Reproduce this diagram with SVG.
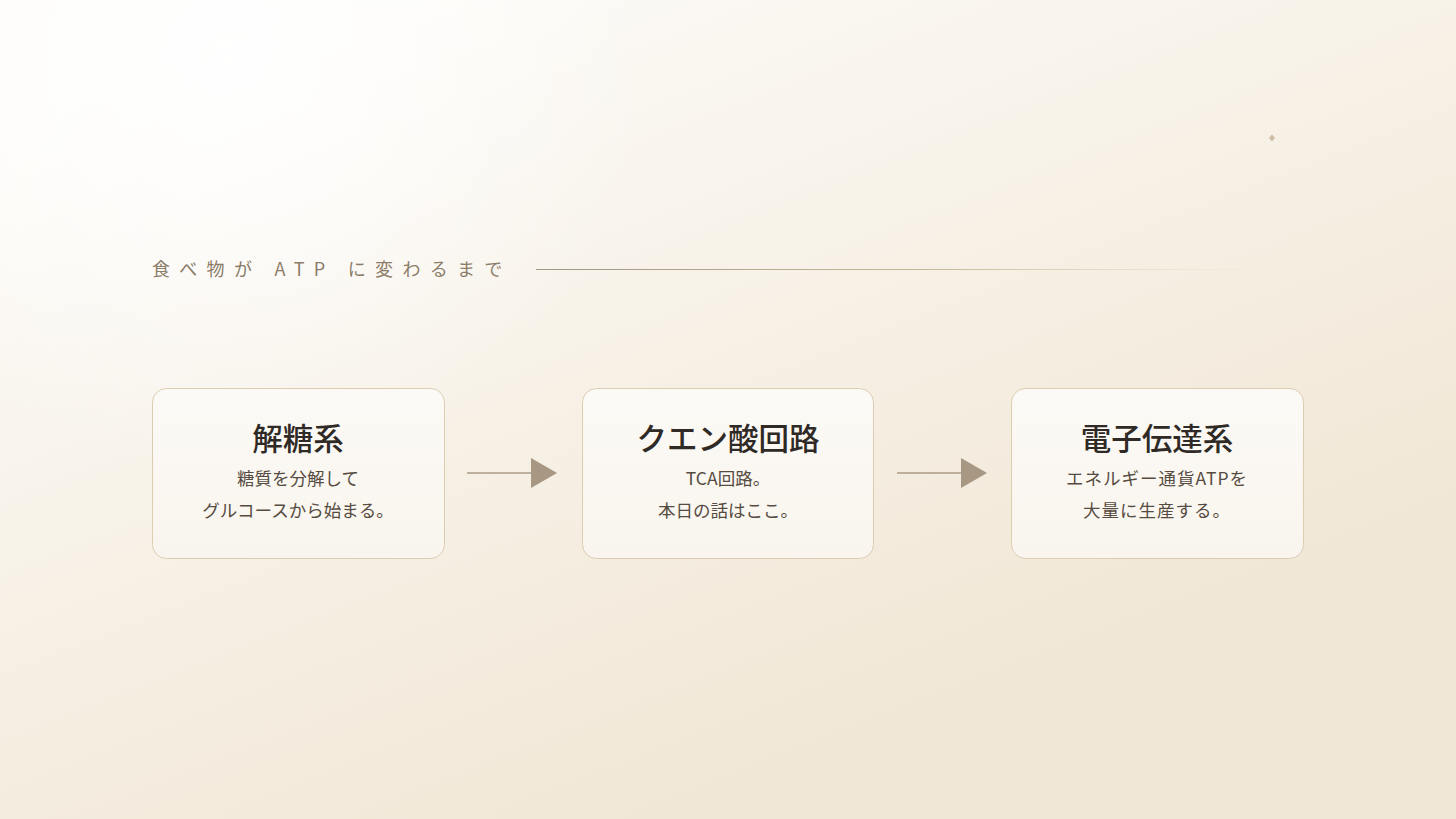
<svg xmlns="http://www.w3.org/2000/svg" width="1456" height="819" viewBox="0 0 1456 819">
  <defs>
    <linearGradient id="bg" gradientUnits="userSpaceOnUse" x1="300" y1="0" x2="620" y2="819">
      <stop offset="0" stop-color="#fdfcf9"/>
      <stop offset="0.5" stop-color="#f7f1e7"/>
      <stop offset="1" stop-color="#f1e7d6"/>
    </linearGradient>
    <radialGradient id="glow" gradientUnits="userSpaceOnUse" cx="230" cy="60" r="420">
      <stop offset="0" stop-color="#ffffff" stop-opacity="0.9"/>
      <stop offset="1" stop-color="#ffffff" stop-opacity="0"/>
    </radialGradient>
    <linearGradient id="rule" gradientUnits="userSpaceOnUse" x1="536" y1="0" x2="1290" y2="0">
      <stop offset="0" stop-color="#a39684"/>
      <stop offset="0.55" stop-color="#cbbb9c"/>
      <stop offset="1" stop-color="#e8dcc6" stop-opacity="0"/>
    </linearGradient>
    <linearGradient id="card" x1="0" y1="0" x2="0" y2="1">
      <stop offset="0" stop-color="#fcfaf6"/>
      <stop offset="1" stop-color="#f9f5ee"/>
    </linearGradient>
    <marker id="arrow" viewBox="0 0 26 30" refX="0" refY="15" markerWidth="26" markerHeight="30" markerUnits="userSpaceOnUse" orient="auto">
      <path d="M0,0 L26,15 L0,30 Z" fill="#a89783"/>
    </marker>
  </defs>
  <style>
    .card { fill: url(#card); stroke: #dccdb0; stroke-width: 1; }
    .title { font-family: "Noto Sans CJK JP", "Noto Sans", sans-serif; font-size: 30.5px; font-weight: 500; fill: #2f2a25; text-anchor: middle; }
    .sub { font-family: "Noto Sans CJK JP", "Noto Sans", sans-serif; font-size: 17.5px; fill: #574c42; text-anchor: middle; }
    .wide { letter-spacing: 1px; }
    .heading { font-family: "Noto Sans CJK JP", "Noto Sans", sans-serif; font-size: 18px; fill: #8b7c69; letter-spacing: 9.3px; }
    .conn { stroke: #ab9b84; stroke-width: 1.3; fill: none; }
  </style>
  <rect width="1456" height="819" fill="url(#bg)"/>
  <rect width="1456" height="819" fill="url(#glow)"/>
  <path d="M1272,134.5 L1275,138 L1272,141.5 L1269,138 Z" fill="#cdbda3"/>

  <g id="header">
    <text class="heading" x="152" y="276">食べ物が ATP に変わるまで</text>
    <line x1="536" y1="269.5" x2="1290" y2="269.5" stroke="url(#rule)" stroke-width="1"/>
  </g>

  <g id="node-glycolysis">
    <rect class="card" x="152.5" y="388.5" width="292" height="170" rx="14"/>
    <text class="title" x="298" y="450">解糖系</text>
    <text class="sub" x="298" y="485">糖質を分解して</text>
    <text class="sub" x="298" y="517">グルコースから始まる。</text>
  </g>

  <g id="node-tca">
    <rect class="card" x="582.5" y="388.5" width="291" height="170" rx="14"/>
    <text class="title" x="728" y="450">クエン酸回路</text>
    <text class="sub" x="728" y="485">TCA回路。</text>
    <text class="sub" x="728" y="517">本日の話はここ。</text>
  </g>

  <g id="node-etc">
    <rect class="card" x="1011.5" y="388.5" width="292" height="170" rx="14"/>
    <text class="title" x="1157" y="450">電子伝達系</text>
    <text class="sub wide" x="1157" y="485">エネルギー通貨ATPを</text>
    <text class="sub wide" x="1157" y="517">大量に生産する。</text>
  </g>

  <g id="connectors">
    <line class="conn" x1="467" y1="473" x2="531" y2="473" marker-end="url(#arrow)"/>
    <line class="conn" x1="897" y1="473" x2="961" y2="473" marker-end="url(#arrow)"/>
  </g>
</svg>
